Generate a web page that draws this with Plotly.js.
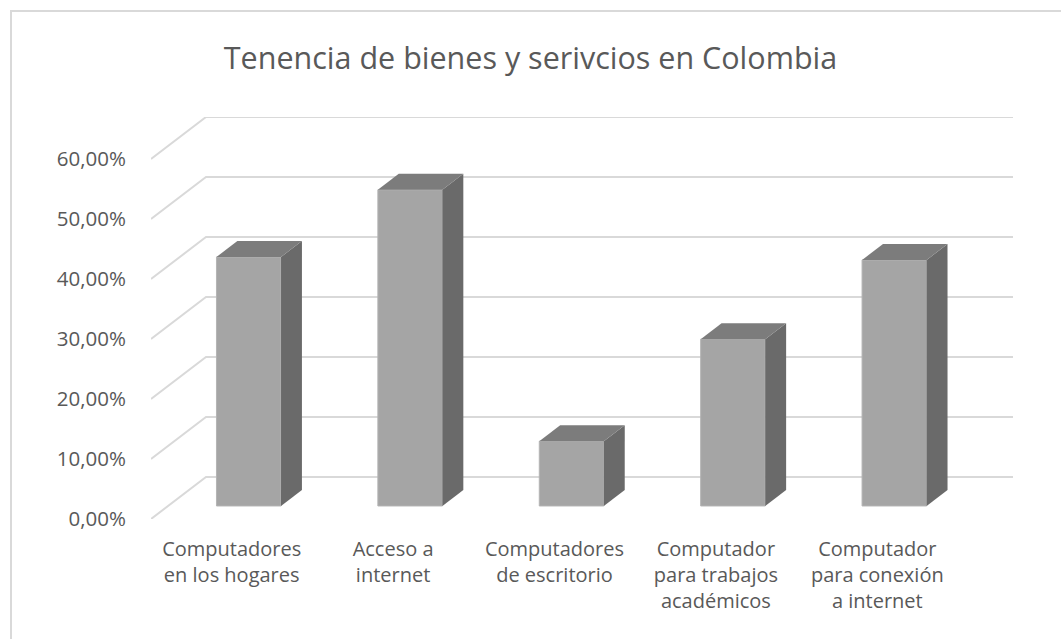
<!DOCTYPE html>
<html>
<head>
<meta charset="utf-8">
<script src="https://cdn.plot.ly/plotly-3.0.1.min.js"></script>
<style>
  html, body { margin: 0; padding: 0; overflow: hidden; background: #fff; }
  #frame { position: absolute; left: 10px; top: 10px; width: 1200px; height: 800px; border: 2px solid #d9d9d9; box-sizing: border-box; pointer-events: none; z-index: 5; }
  #chart { position: absolute; left: 0; top: 0; width: 1061px; height: 639px; }
</style>
</head>
<body>
<div id="chart"></div>
<div id="frame"></div>
<script>
// ---- data ----
const categories = [
  "Computadores<br>en los hogares",
  "Acceso a<br>internet",
  "Computadores<br>de escritorio",
  "Computador<br>para trabajos<br>académicos",
  "Computador<br>para conexión<br>a internet"
];
const values = [41.5, 52.7, 10.8, 27.8, 41.0];   // percent
const yTickValues = [0, 10, 20, 30, 40, 50, 60];
const yTickLabels = ["0,00%", "10,00%", "20,00%", "30,00%", "40,00%", "50,00%", "60,00%"];
const chartTitle = "Tenencia de bienes y serivcios en Colombia";

// ---- 3D geometry (in axis units) ----
const DX = 0.3408;   // depth offset along x (category units)
const DY = 7;        // depth offset along y (percent units)
const F1 = 0.31, F2 = 0.69;  // bar front / back depth fractions
const BW = 0.40;     // bar width (category units)
const XMAX = categories.length + DX;
const YMAX = 60 + DY;

const FONT = "'Open Sans', 'Noto Sans', sans-serif";
const gridColor = "#d9d9d9";
const textColor = "#595959";
const frontColor = "#a5a5a5";
const topColor = "#7c7c7c";
const sideColor = "#6a6a6a";

// oblique gridlines (floor edge + back wall) as shapes below traces
const shapes = [];
yTickValues.forEach(t => {
  shapes.push({
    type: "path", layer: "below", xref: "x", yref: "y",
    path: `M0,${t} L${DX},${t + DY} L${XMAX},${t + DY}`,
    line: { color: gridColor, width: 2 }
  });
});

const traces = [];
const cx = categories.map((c, i) => i + 0.5);
const y0f = F1 * DY;
const dxb = (F2 - F1) * DX, dyb = (F2 - F1) * DY;

// front faces via bar trace
traces.push({
  type: "bar",
  x: cx.map(c => c + F1 * DX),
  y: values,
  base: values.map(() => y0f),
  width: BW,
  marker: { color: frontColor, line: { width: 1, color: "#b4b4b4" } },
  hoverinfo: "skip", showlegend: false
});

// side & top faces
values.forEach((v, i) => {
  const xl = cx[i] + F1 * DX - BW / 2, xr = cx[i] + F1 * DX + BW / 2;
  traces.push({
    type: "scatter", mode: "lines", fill: "toself",
    x: [xr, xr, xr + dxb, xr + dxb, xr],
    y: [y0f, y0f + v, y0f + v + dyb, y0f + dyb, y0f],
    fillcolor: sideColor, line: { width: 0, color: sideColor },
    hoverinfo: "skip", showlegend: false
  });
  traces.push({
    type: "scatter", mode: "lines", fill: "toself",
    x: [xl, xr, xr + dxb, xl + dxb, xl],
    y: [y0f + v, y0f + v, y0f + v + dyb, y0f + v + dyb, y0f + v],
    fillcolor: topColor, line: { width: 0, color: topColor },
    hoverinfo: "skip", showlegend: false
  });
});

const layout = {
  width: 1061, height: 639,
  margin: { l: 151, r: 48, t: 117, b: 120, pad: 0 },
  paper_bgcolor: "#ffffff", plot_bgcolor: "rgba(0,0,0,0)",
  font: { family: FONT, color: textColor, size: 20 },
  title: {
    text: chartTitle, x: 0.5, xref: "container", xanchor: "center",
    y: 1 - 58 / 639, yref: "container", yanchor: "middle",
    font: { size: 30.5, color: textColor, family: FONT }
  },
  xaxis: {
    range: [0, XMAX], showgrid: false, zeroline: false, showline: false,
    tickmode: "array", tickvals: cx, ticktext: categories,
    ticks: "outside", ticklen: 12, tickcolor: "rgba(0,0,0,0)",
    tickfont: { size: 20, color: textColor, family: FONT }, fixedrange: true
  },
  yaxis: {
    range: [0, YMAX], showgrid: false, zeroline: false, showline: false,
    tickmode: "array", tickvals: yTickValues, ticktext: yTickLabels,
    ticks: "outside", ticklen: 20, tickcolor: "rgba(0,0,0,0)",
    tickfont: { size: 20.5, color: textColor, family: FONT }, fixedrange: true
  },
  shapes: shapes,
  showlegend: false
};

Plotly.newPlot("chart", traces, layout, { staticPlot: true, displayModeBar: false });
</script>
</body>
</html>
